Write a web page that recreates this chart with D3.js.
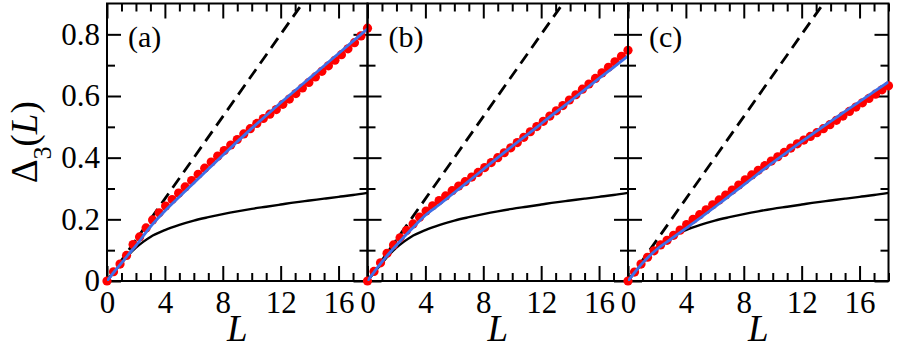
<!DOCTYPE html>
<html>
<head>
<meta charset="utf-8">
<script src="https://cdn.jsdelivr.net/npm/d3@7"></script>
<style>
  body { margin: 0; background: #fff; }
  svg { display: block; }
  text { font-family: "Liberation Serif", "Times New Roman", Times, serif; }
</style>
</head>
<body>
<div id="chart"></div>
<script>
// data
const dotL = [0, 0.45, 0.9, 1.35, 1.8, 2.25, 2.7, 3.15, 3.6, 4.05, 4.5, 4.95, 5.4, 5.85, 6.3, 6.75,
  7.2, 7.65, 8.1, 8.55, 9.0, 9.45, 9.9, 10.35, 10.8, 11.25, 11.7, 12.15, 12.6, 13.05, 13.5,
  13.95, 14.4, 14.85, 15.3, 15.75, 16.2, 16.65, 17.1, 17.55, 18.0];

const redA = [0, 0.03, 0.055, 0.083, 0.118, 0.143, 0.172, 0.198, 0.221, 0.243, 0.264, 0.285,
  0.305, 0.326, 0.346, 0.366, 0.386, 0.405, 0.423, 0.441, 0.459, 0.477, 0.494, 0.511, 0.527,
  0.541, 0.556, 0.573, 0.59, 0.608, 0.626, 0.644, 0.662, 0.68, 0.698, 0.716, 0.734, 0.753,
  0.773, 0.795, 0.82];
const redB = [0, 0.031, 0.059, 0.09, 0.117, 0.14, 0.164, 0.185, 0.207, 0.227, 0.244, 0.261,
  0.276, 0.293, 0.308, 0.322, 0.337, 0.352, 0.368, 0.384, 0.4, 0.416, 0.432, 0.449, 0.466,
  0.484, 0.501, 0.518, 0.535, 0.552, 0.569, 0.587, 0.604, 0.622, 0.639, 0.657, 0.675, 0.693,
  0.711, 0.729, 0.748];
const redC = [0, 0.029, 0.055, 0.077, 0.098, 0.117, 0.132, 0.148, 0.165, 0.183, 0.2, 0.215,
  0.231, 0.247, 0.263, 0.279, 0.295, 0.311, 0.328, 0.344, 0.359, 0.374, 0.389, 0.403, 0.417,
  0.431, 0.445, 0.457, 0.469, 0.481, 0.494, 0.507, 0.521, 0.535, 0.55, 0.564, 0.578, 0.592,
  0.606, 0.62, 0.633];

const fitL = [0, 0.5, 1, 1.5, 2, 3, 4, 5, 6, 7, 8, 9, 10, 11, 12, 13, 14, 15, 16, 17, 18];
const blueA = [0, 0.03, 0.058, 0.087, 0.115, 0.176, 0.227, 0.273, 0.318, 0.363, 0.408, 0.452,
  0.495, 0.537, 0.578, 0.618, 0.658, 0.698, 0.738, 0.778, 0.818];
const blueB = [0, 0.032, 0.062, 0.09, 0.116, 0.166, 0.213, 0.249, 0.287, 0.324, 0.362, 0.4,
  0.437, 0.473, 0.51, 0.547, 0.583, 0.62, 0.657, 0.693, 0.73];
const blueC = [0, 0.03, 0.058, 0.082, 0.103, 0.137, 0.171, 0.205, 0.24, 0.276, 0.312, 0.348,
  0.384, 0.418, 0.452, 0.485, 0.518, 0.55, 0.582, 0.614, 0.646];

const goeL = [0, 0.5, 1, 1.5, 2, 2.5, 3, 4, 5, 6, 7, 8, 9, 10, 11, 12, 13, 14, 15, 16, 17, 18];
const goe = [0, 0.03, 0.058, 0.085, 0.108, 0.127, 0.143, 0.165, 0.182, 0.196, 0.207, 0.217,
  0.226, 0.234, 0.241, 0.248, 0.255, 0.261, 0.267, 0.273, 0.279, 0.286];

const poissonL = [0, 18];
const poisson = [0, 1.2];

const panelNames = ["(a)", "(b)", "(c)"];
const redSets = [redA, redB, redC];
const blueSets = [blueA, blueB, blueC];

const xTicks = [0, 4, 8, 12, 16];
const yTicks = [0, 0.2, 0.4, 0.6, 0.8];

const width = 897, height = 350;
const left0 = 107, panelW = 260.5, plotTop = 3.5, plotBottom = 281;
const serif = "Liberation Serif, Times New Roman, Times, serif";

const svg = d3.select("#chart").append("svg")
  .attr("width", width)
  .attr("height", height)
  .style("background", "#fff");

const y = d3.scaleLinear().domain([0, 0.9]).range([plotBottom, plotTop]);

const zip = (xs, ys) => xs.map((v, i) => [v, ys[i]]);

panelNames.forEach((name, p) => {
  const x0 = left0 + p * panelW;
  const x = d3.scaleLinear().domain([0, 18]).range([x0, x0 + panelW]);
  const g = svg.append("g");

  const clipId = "clip" + p;
  svg.append("defs").append("clipPath").attr("id", clipId)
    .append("rect")
    .attr("x", x0).attr("y", plotTop)
    .attr("width", panelW).attr("height", plotBottom - plotTop);

  const line = d3.line()
    .x(d => x(d[0]))
    .y(d => y(d[1]))
    .curve(d3.curveMonotoneX);

  const lines = g.append("g").attr("clip-path", `url(#${clipId})`);

  // GOE curve
  lines.append("path")
    .attr("d", line(zip(goeL, goe)))
    .attr("fill", "none")
    .attr("stroke", "#000")
    .attr("stroke-width", 2.4);

  // Poisson line
  lines.append("path")
    .attr("d", d3.line().x(d => x(d[0])).y(d => y(d[1]))(zip(poissonL, poisson)))
    .attr("fill", "none")
    .attr("stroke", "#000")
    .attr("stroke-width", 2.8)
    .attr("stroke-dasharray", "12,7");

  // frame
  g.append("rect")
    .attr("x", x0).attr("y", plotTop)
    .attr("width", panelW).attr("height", plotBottom - plotTop)
    .attr("fill", "none")
    .attr("stroke", "#000")
    .attr("stroke-width", 2);

  // ticks on all four sides
  const xMinor = d3.range(0, 19, 1).filter(v => v % 4 !== 0);
  const yMinor = [0.1, 0.3, 0.5, 0.7];

  g.append("g")
    .attr("transform", `translate(0,${plotBottom})`)
    .call(d3.axisBottom(x).tickValues(xTicks).tickSizeInner(-15).tickSizeOuter(0).tickPadding(10));
  g.append("g")
    .attr("transform", `translate(0,${plotBottom})`)
    .call(d3.axisBottom(x).tickValues(xMinor).tickSizeInner(-8).tickSizeOuter(0).tickFormat(""));
  g.append("g")
    .attr("transform", `translate(0,${plotTop})`)
    .call(d3.axisTop(x).tickValues(xTicks).tickSizeInner(-15).tickSizeOuter(0).tickFormat(""));
  g.append("g")
    .attr("transform", `translate(0,${plotTop})`)
    .call(d3.axisTop(x).tickValues(xMinor).tickSizeInner(-8).tickSizeOuter(0).tickFormat(""));

  g.append("g")
    .attr("transform", `translate(${x0},0)`)
    .call(d3.axisLeft(y).tickValues(yTicks).tickSizeInner(-14).tickSizeOuter(0).tickPadding(7)
      .tickFormat(p === 0 ? (d => d === 0 ? "0" : d3.format(".1f")(d)) : ""));
  g.append("g")
    .attr("transform", `translate(${x0},0)`)
    .call(d3.axisLeft(y).tickValues(yMinor).tickSizeInner(-8).tickSizeOuter(0).tickFormat(""));
  g.append("g")
    .attr("transform", `translate(${x0 + panelW},0)`)
    .call(d3.axisRight(y).tickValues(yTicks).tickSizeInner(-14).tickSizeOuter(0).tickFormat(""));
  g.append("g")
    .attr("transform", `translate(${x0 + panelW},0)`)
    .call(d3.axisRight(y).tickValues(yMinor).tickSizeInner(-8).tickSizeOuter(0).tickFormat(""));

  g.selectAll(".domain").remove();
  g.selectAll(".tick line").attr("stroke", "#000").attr("stroke-width", 2);
  g.selectAll("g").attr("font-family", null);
  g.selectAll(".tick text")
    .style("font-family", serif)
    .attr("font-size", 31)
    .attr("fill", "#000");

  // panel label
  g.append("text")
    .attr("x", x0 + 21)
    .attr("y", 47)
    .style("font-family", serif)
    .attr("font-size", 30)
    .text(name);

  // x axis title
  g.append("text")
    .attr("x", x0 + panelW / 2)
    .attr("y", 341)
    .attr("text-anchor", "middle")
    .style("font-family", serif)
    .attr("font-style", "italic")
    .attr("font-size", 37)
    .text("L");

  // red dots (not clipped)
  g.append("g").selectAll("circle")
    .data(zip(dotL, redSets[p]))
    .join("circle")
    .attr("cx", d => x(d[0]))
    .attr("cy", d => y(d[1]))
    .attr("r", 4.6)
    .attr("fill", "#ff0000");

  // fit line
  g.append("path")
    .attr("clip-path", `url(#${clipId})`)
    .attr("d", line(zip(fitL, blueSets[p])))
    .attr("fill", "none")
    .attr("stroke", "#3f6fe8")
    .attr("stroke-width", 2.8);
});

// y axis title: Delta_3(L)
const yTitle = svg.append("text")
  .attr("transform", `translate(37,${(plotTop + plotBottom) / 2}) rotate(-90)`)
  .attr("text-anchor", "middle")
  .style("font-family", serif)
  .attr("font-size", 37);
yTitle.append("tspan").text("Δ");
yTitle.append("tspan").attr("font-size", 26).attr("dy", 14).text("3");
yTitle.append("tspan").attr("dy", -14).text("(");
yTitle.append("tspan").attr("font-style", "italic").text("L");
yTitle.append("tspan").text(")");
</script>
</body>
</html>
